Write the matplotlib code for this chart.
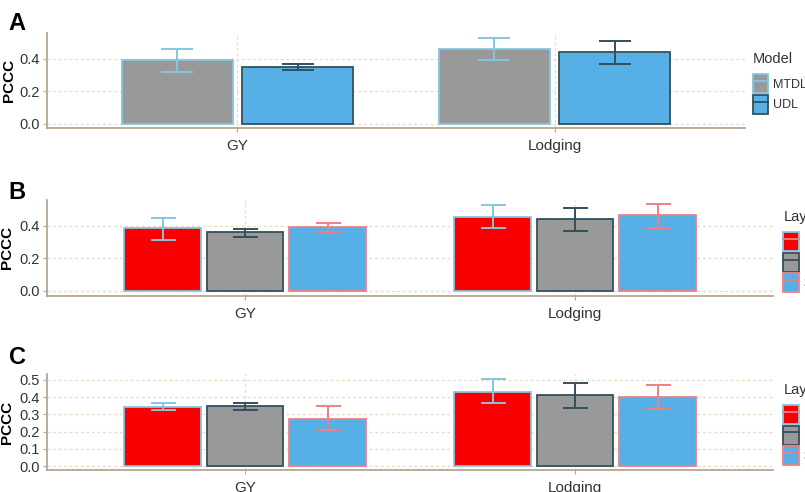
import matplotlib.pyplot as plt
from matplotlib.patches import Patch
from matplotlib.lines import Line2D

# trait categories on the x axis
traits = ["GY", "Lodging"]

# panel A: model comparison (mean PCCC and error bar ends)
model_names = ["MTDLMP", "UDL"]
a_mean = {"MTDLMP": [0.39, 0.46], "UDL": [0.35, 0.44]}
a_low = {"MTDLMP": [0.32, 0.39], "UDL": [0.33, 0.37]}
a_high = {"MTDLMP": [0.46, 0.53], "UDL": [0.37, 0.51]}

# panels B and C: number of layers
layer_names = ["1", "2", "3"]
b_mean = {"1": [0.386, 0.453], "2": [0.36, 0.44], "3": [0.395, 0.466]}
b_low = {"1": [0.316, 0.39], "2": [0.33, 0.37], "3": [0.365, 0.39]}
b_high = {"1": [0.45, 0.53], "2": [0.38, 0.51], "3": [0.42, 0.535]}

c_mean = {"1": [0.343, 0.432], "2": [0.349, 0.413], "3": [0.275, 0.401]}
c_low = {"1": [0.327, 0.364], "2": [0.326, 0.337], "3": [0.207, 0.333]}
c_high = {"1": [0.366, 0.506], "2": [0.366, 0.481], "3": [0.349, 0.469]}

RED = "#f80000"
GREY = "#999999"
BLUE = "#56b0e6"
LBLUE = "#86c5e0"
DARK = "#34505c"
LRED = "#ee7f86"
SPINE = "#b9a592"
GRID = "#e8dcc8"
TXT = "#333333"

plt.rcParams["font.family"] = ["Liberation Sans", "DejaVu Sans"]

fig = plt.figure(figsize=(8.05, 4.92), dpi=100)


def style_axis(ax, ylim, yticks):
    ax.set_xlim(0.4, 2.6)
    ax.set_ylim(*ylim)
    ax.set_yticks(yticks)
    ax.set_yticklabels([f"{t:.1f}" for t in yticks])
    ax.set_xticks([1, 2])
    ax.set_xticklabels(traits)
    for s in ["top", "right"]:
        ax.spines[s].set_visible(False)
    for s in ["left", "bottom"]:
        ax.spines[s].set_color(SPINE)
        ax.spines[s].set_linewidth(1.3)
    ax.tick_params(axis="both", colors=SPINE, length=3, labelsize=10.5,
                   labelcolor=TXT, pad=2)
    ax.tick_params(axis="x", labelsize=11, pad=5)
    ax.grid(True, color=GRID, linestyle=(0, (2, 2)), linewidth=1.0)
    ax.set_axisbelow(True)
    ax.set_ylabel("PCCC", fontsize=11, fontweight="bold")
    ax.yaxis.set_label_coords(-0.045, 0.5)


def draw_bars(ax, names, mean, low, high, offsets, width, fills, edges, errs, capsize):
    for name, off, fc, ec, erc in zip(names, offsets, fills, edges, errs):
        xs = [i + 1 + off for i in range(len(traits))]
        ax.bar(xs, mean[name], width=width, color=fc, edgecolor=ec, linewidth=1.3, zorder=2)
        lo = [m - l for m, l in zip(mean[name], low[name])]
        hi = [h - m for m, h in zip(mean[name], high[name])]
        ax.errorbar(xs, mean[name], yerr=[lo, hi], fmt="none", ecolor=erc,
                    elinewidth=1.4, capsize=capsize, capthick=1.4, zorder=3)


def add_legend(ax, title, names, fills, edges, lines, x, y):
    handles = [(Patch(facecolor=f, edgecolor=e, linewidth=1.3),
                Line2D([], [], color=l, linewidth=1.3))
               for f, e, l in zip(fills, edges, lines)]
    leg = ax.legend(handles, names, title=title, loc="upper left",
                    bbox_to_anchor=(x, y), bbox_transform=fig.transFigure,
                    frameon=False, handlelength=1.25, handleheight=1.95,
                    handletextpad=0.4, labelspacing=0.12, borderpad=0,
                    borderaxespad=0, fontsize=9, title_fontsize=10.5)
    leg._legend_box.align = "left"
    leg._legend_box.sep = 6
    for t in leg.get_texts():
        t.set_color(TXT)
    leg.get_title().set_color(TXT)


# A
axA = fig.add_axes([0.0584, 0.7398, 0.867, 0.193])
style_axis(axA, (-0.025, 0.558), [0.0, 0.2, 0.4])
draw_bars(axA, model_names, a_mean, a_low, a_high, [-0.19, 0.19], 0.35,
          [GREY, BLUE], [LBLUE, DARK], [LBLUE, DARK], 11.5)
add_legend(axA, "Model", model_names, [GREY, BLUE], [LBLUE, DARK], [LBLUE, DARK],
           0.935, 0.894)

# B
axB = fig.add_axes([0.0584, 0.399, 0.902, 0.1945])
style_axis(axB, (-0.029, 0.56), [0.0, 0.2, 0.4])
draw_bars(axB, layer_names, b_mean, b_low, b_high, [-0.25, 0.0, 0.25], 0.232,
          [RED, GREY, BLUE], [LBLUE, DARK, LRED], [LBLUE, DARK, LRED], 9)
add_legend(axB, "Layer", layer_names, [RED, GREY, BLUE], [LBLUE, DARK, LRED],
           [LRED, DARK, LRED], 0.973, 0.573)

# C
axC = fig.add_axes([0.0584, 0.0447, 0.902, 0.1945])
style_axis(axC, (-0.023, 0.533), [0.0, 0.1, 0.2, 0.3, 0.4, 0.5])
draw_bars(axC, layer_names, c_mean, c_low, c_high, [-0.25, 0.0, 0.25], 0.232,
          [RED, GREY, BLUE], [LBLUE, DARK, LRED], [LBLUE, DARK, LRED], 9)
add_legend(axC, "Layer", layer_names, [RED, GREY, BLUE], [LBLUE, DARK, LRED],
           [LRED, DARK, LRED], 0.973, 0.2215)

# panel letters
for lab, yy in [("A", 0.952), ("B", 0.609), ("C", 0.273)]:
    fig.text(0.011, yy, lab, fontsize=17, fontweight="bold", va="center")

fig.savefig("out.png", dpi=100)
